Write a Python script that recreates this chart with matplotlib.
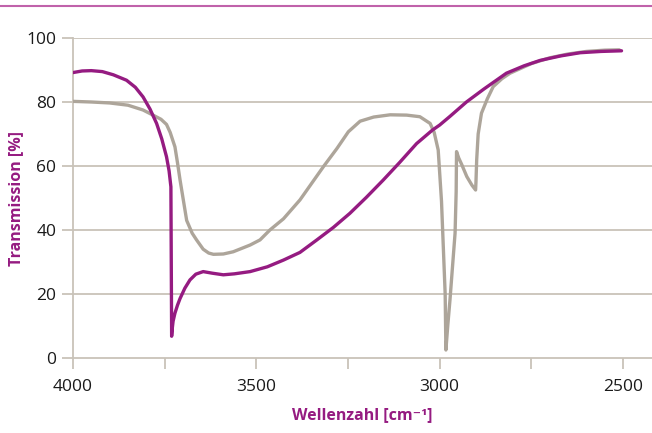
import matplotlib
matplotlib.use("Agg")
import matplotlib.pyplot as plt
from matplotlib.lines import Line2D

# ─── Data ─────────────────────────────────────────────────────────────────────
purple_x = [4000, 3975, 3950, 3920, 3890, 3854, 3830, 3809, 3790, 3772, 3758,
            3745, 3738, 3733, 3732, 3731, 3729, 3727, 3722, 3715, 3708, 3695,
            3681, 3665, 3645, 3620, 3590, 3560, 3517, 3470, 3426, 3381, 3335,
            3290, 3245, 3200, 3154, 3110, 3063, 3020, 3000, 2972, 2927, 2880,
            2818, 2770, 2726, 2670, 2617, 2560, 2504]
purple_y = [89.2, 89.7, 89.8, 89.5, 88.5, 86.8, 84.6, 81.6, 77.8, 73.3, 68.5,
            62.9, 58.5, 53.5, 30.0, 6.8, 9.5, 11.5, 14.0, 16.5, 18.6, 21.8,
            24.4, 26.2, 27.0, 26.5, 26.0, 26.3, 27.0, 28.5, 30.6, 33.0, 36.9,
            40.8, 45.2, 50.2, 55.6, 61.0, 67.0, 71.2, 72.8, 75.5, 80.0, 84.0,
            89.0, 91.3, 93.0, 94.4, 95.4, 95.8, 96.0]

gray_x = [4000, 3950, 3900, 3850, 3809, 3780, 3760, 3745, 3735, 3722, 3715,
          3708, 3690, 3675, 3663, 3645, 3630, 3617, 3590, 3563, 3517, 3490,
          3463, 3426, 3381, 3317, 3280, 3249, 3217, 3180, 3135, 3090, 3054,
          3026, 3015, 3004, 2995, 2985, 2983, 2978, 2972, 2964, 2958, 2955,
          2954, 2948, 2940, 2926, 2912, 2902, 2901, 2899, 2895, 2886, 2870,
          2854, 2830, 2808, 2750, 2700, 2650, 2600, 2550, 2510]
gray_y = [80.2, 80.0, 79.7, 79.0, 77.5, 75.8, 74.6, 73.0, 70.5, 66.0, 61.0,
          55.6, 43.0, 39.0, 36.9, 34.0, 32.8, 32.4, 32.5, 33.2, 35.3, 36.9,
          40.0, 43.5, 49.4, 59.8, 65.5, 70.7, 74.0, 75.3, 76.0, 75.9, 75.4,
          73.3, 70.5, 65.0, 49.0, 20.0, 2.5, 10.0, 18.0, 30.0, 39.0, 52.0,
          64.5, 62.5, 60.5, 56.7, 54.0, 52.5, 55.0, 62.0, 70.0, 76.5, 81.0,
          84.8, 87.3, 89.0, 92.0, 93.8, 95.0, 95.8, 96.2, 96.3]

x_ticks      = [4000, 3750, 3500, 3250, 3000, 2750, 2500]
x_tick_texts = ["4000", "", "3500", "", "3000", "", "2500"]
y_ticks      = [0, 20, 40, 60, 80, 100]

# ─── Style ────────────────────────────────────────────────────────────────────
PURPLE     = "#951B81"
GRAY_LINE  = "#ADA59A"
GRID       = "#C9C3B9"
TOP_RULE   = "#C062AA"
plt.rcParams["font.family"] = ["Open Sans", "DejaVu Sans"]

fig = plt.figure(figsize=(6.52, 4.33), dpi=100)
ax = fig.add_axes([73 / 652, 1 - 358 / 433, 1 - 73 / 652, 320 / 433])

ax.plot(purple_x, purple_y, color=PURPLE, lw=2.4, solid_capstyle="round",
        solid_joinstyle="round", zorder=4)
ax.plot(gray_x, gray_y, color=GRAY_LINE, lw=2.4, solid_capstyle="round",
        solid_joinstyle="round", zorder=3)

ax.set_xlim(4000, 4000 - (652 - 73) / (550 / 1500))
ax.set_ylim(0, 100)

for y in y_ticks[1:]:
    ax.axhline(y, color=GRID, lw=1.3, zorder=1)

ax.set_xticks(x_ticks)
ax.set_xticklabels(x_tick_texts)
ax.set_yticks(y_ticks)
ax.tick_params(axis="both", colors=GRID, labelcolor="#1a1a1a", labelsize=12.5,
               length=8, width=1.3, direction="out")
ax.tick_params(axis="x", pad=7)
ax.tick_params(axis="y", pad=4)

for side in ("top", "right"):
    ax.spines[side].set_visible(False)
for side in ("left", "bottom"):
    ax.spines[side].set_color(GRID)
    ax.spines[side].set_linewidth(1.3)

ax.set_xlabel("Wellenzahl [cm⁻¹]", color=PURPLE, fontsize=11.5,
              fontweight="bold", labelpad=9)
ax.set_ylabel("Transmission [%]", color=PURPLE, fontsize=11.5,
              fontweight="bold")
ax.yaxis.set_label_coords(-0.084, 0.5)

# thin rule across the top of the figure
fig.add_artist(Line2D([0, 1], [1 - 6 / 433, 1 - 6 / 433], color=TOP_RULE,
                      lw=1.5, transform=fig.transFigure))

fig.savefig("out.png", dpi=100)
